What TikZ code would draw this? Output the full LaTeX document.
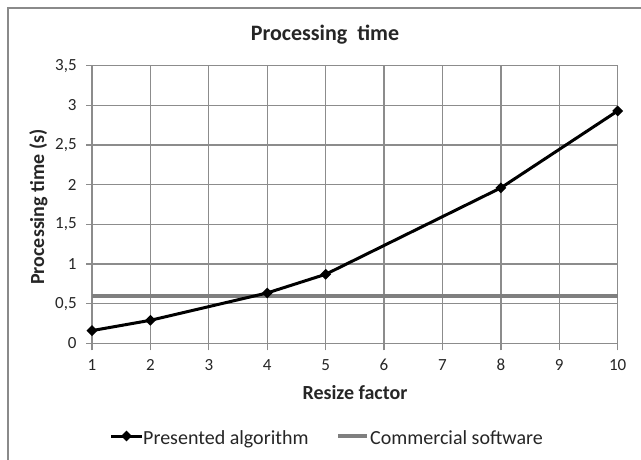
\documentclass[tikz,border=0pt]{standalone}
\usepackage{fontspec}
\setmainfont{Carlito}
\usetikzlibrary{shapes.geometric}
\definecolor{gridgray}{HTML}{8C8C8C}
\definecolor{framegray}{HTML}{8A8A8A}
\definecolor{commgray}{HTML}{7F7F7F}
\tikzset{
  gridline/.style={draw=gridgray, line width=1.3pt},
  dataline/.style={draw=black, line width=3pt, line join=round},
  commline/.style={draw=commgray, line width=4pt},
  dmark/.style={diamond, fill=black, inner sep=0pt, minimum size=11pt},
  ticklab/.style={font=\fontsize{17}{17}\selectfont, text=black!85},
  axtitle/.style={font=\fontsize{20}{20}\selectfont\bfseries, text=black!85},
  legtext/.style={font=\fontsize{20}{20}\selectfont, text=black!85, anchor=base west, inner sep=0pt},
}
\begin{document}
\begin{tikzpicture}[x=1pt,y=-1pt]
\useasboundingbox (0,0) rectangle (641,460);
\clip (0,0) rectangle (641,460);
\fill[white] (0,0) rectangle (641,460);
\draw[framegray, line width=2pt] (8,8) rectangle (660,480);
\node[font=\fontsize{22}{22}\selectfont\bfseries, text=black!85, anchor=base] (title) at (325,41) {Processing\ \ time};
\begin{scope}[x=58.41pt, y=79.31pt, shift={(92pt,-343.3pt)}]
  % grid
  \foreach \i in {0,...,9} {
    \draw[gridline] (\i,-0.09) -- (\i,3.5);
    \pgfmathtruncatemacro{\lab}{\i+1}
    \node[ticklab, anchor=base] (xt\i) at (\i,-0.34) {\lab};
  }
  \foreach \v/\l in {0/0,0.5/{0,5},1/1,1.5/{1,5},2/2,2.5/{2,5},3/3,3.5/{3,5}} {
    \draw[gridline] (-0.1,\v) -- (9,\v);
    \node[ticklab, anchor=east, inner sep=0pt] at (-0.26,\v) {\l};
  }
  % commercial software
  \coordinate (c1) at (0,0.6);
  \coordinate (c2) at (9,0.6);
  \draw[commline] (c1) -- (c2);
  % presented algorithm
  \node[dmark] (p1) at (0,0.16) {};
  \node[dmark] (p2) at (1,0.29) {};
  \node[dmark] (p4) at (3,0.635) {};
  \node[dmark] (p5) at (4,0.87) {};
  \node[dmark] (p8) at (7,1.96) {};
  \node[dmark] (p10) at (9,2.93) {};
  \draw[dataline] (p1.center) -- (p2.center) -- (p4.center) -- (p5.center) -- (p8.center) -- (p10.center);
\end{scope}
\node[axtitle, anchor=base] (xlabel) at (355,399) {Resize factor};
\node[axtitle, rotate=90, anchor=base] (ylabel) at (44,207) {Processing time (s)};
% legend
\coordinate (l1a) at (111,436);
\coordinate (l1b) at (142,436);
\draw[dataline] (l1a) -- (l1b);
\node[dmark] (l1m) at (126.5,436) {};
\node[legtext] (l1t) at (143,444) {Presented algorithm};
\coordinate (l2a) at (338,436);
\coordinate (l2b) at (367,436);
\draw[commline] (l2a) -- (l2b);
\node[legtext] (l2t) at (370,444) {Commercial software};
\end{tikzpicture}
\end{document}
